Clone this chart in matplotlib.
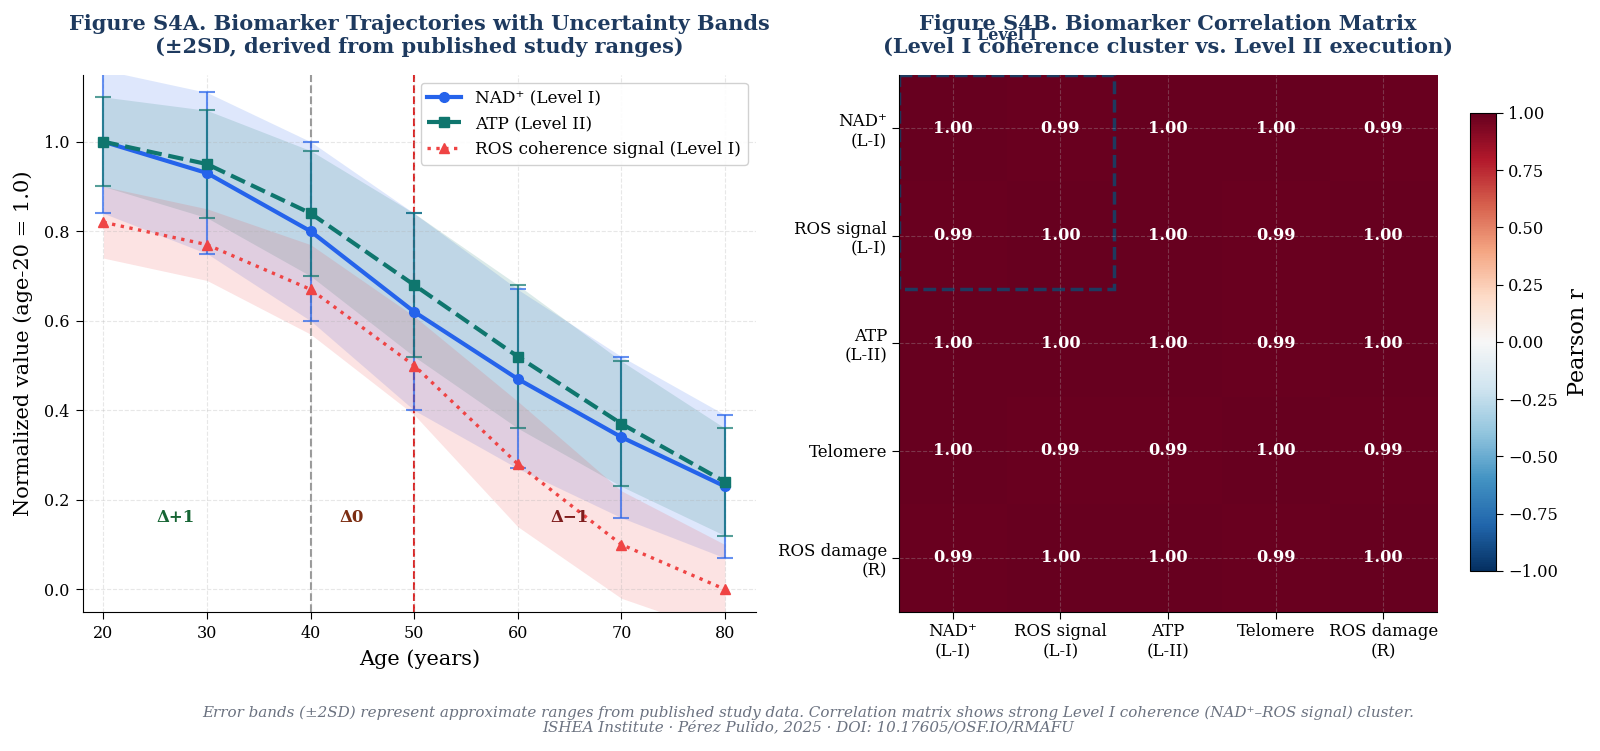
import matplotlib
matplotlib.use("Agg")
import matplotlib.pyplot as plt
import numpy as np
from matplotlib.patches import Rectangle

plt.rcParams['font.family'] = ['DejaVu Serif']

# ---------------- data ----------------
ages = [20, 30, 40, 50, 60, 70, 80]
nad = [1.00, 0.93, 0.80, 0.62, 0.47, 0.34, 0.23]
nad_sd2 = [0.16, 0.18, 0.20, 0.22, 0.20, 0.18, 0.16]
atp = [1.00, 0.95, 0.84, 0.68, 0.52, 0.37, 0.24]
atp_sd2 = [0.10, 0.12, 0.14, 0.16, 0.16, 0.14, 0.12]
ros = [0.82, 0.77, 0.67, 0.50, 0.28, 0.10, 0.00]
ros_sd2 = [0.08, 0.08, 0.10, 0.11, 0.14, 0.12, 0.10]

series_labels = ["NAD\u207a (Level I)", "ATP (Level II)", "ROS coherence signal (Level I)"]
phase_lines = [40, 50]
phase_labels = ["\u0394+1", "\u03940", "\u0394\u22121"]
phase_label_x = [27, 44, 65]
phase_label_y = 0.16

corr_labels = ["NAD\u207a\n(L-I)", "ROS signal\n(L-I)", "ATP\n(L-II)", "Telomere", "ROS damage\n(R)"]
corr = [
    [1.00, 0.99, 1.00, 1.00, 0.99],
    [0.99, 1.00, 1.00, 0.99, 1.00],
    [1.00, 1.00, 1.00, 0.99, 1.00],
    [1.00, 0.99, 0.99, 1.00, 0.99],
    [0.99, 1.00, 1.00, 0.99, 1.00],
]

# ---------------- style ----------------
navy = '#1e3a5f'
c_nad = '#2563eb'
c_atp = '#0f766e'
c_ros = '#ef4444'

fig = plt.figure(figsize=(16, 7.51), dpi=100)
ax1 = fig.add_axes([0.0517, 0.1855, 0.4208, 0.7152])
ax2 = fig.add_axes([0.5619, 0.1855, 0.3363, 0.7152])
cax = fig.add_axes([0.9188, 0.2397, 0.01625, 0.6099])

x = np.array(ages)
for vals, sd, c in [(nad, nad_sd2, c_nad), (atp, atp_sd2, c_atp), (ros, ros_sd2, c_ros)]:
    v = np.array(vals); s = np.array(sd)
    ax1.fill_between(x, v - s, v + s, color=c, alpha=0.15, linewidth=0)

ax1.axvline(phase_lines[0], color='#999999', ls='--', lw=1.5, zorder=1.5)
ax1.axvline(phase_lines[1], color='#dc2626', ls='--', lw=1.5, zorder=1.5)

ax1.errorbar(x, nad, yerr=nad_sd2, fmt='none', ecolor=c_nad, elinewidth=1.5,
             capsize=6, capthick=1.5, alpha=0.7, zorder=2.5)
ax1.errorbar(x, atp, yerr=atp_sd2, fmt='none', ecolor=c_atp, elinewidth=1.5,
             capsize=6, capthick=1.5, alpha=0.7, zorder=2.5)

ax1.plot(x, nad, color=c_nad, lw=3, marker='o', ms=7, label=series_labels[0], zorder=3)
ax1.plot(x, atp, color=c_atp, lw=3, ls='--', marker='s', ms=7, label=series_labels[1], zorder=3)
ax1.plot(x, ros, color=c_ros, lw=2.4, ls=':', marker='^', ms=7, label=series_labels[2], zorder=3)

for lab, lx, col in zip(phase_labels, phase_label_x, ['#166534', '#7c2d12', '#7f1d1d']):
    ax1.text(lx, phase_label_y, lab, color=col, fontsize=12, fontweight='bold',
             ha='center', va='center')

ax1.set_xlim(18, 83)
ax1.set_ylim(-0.05, 1.15)
ax1.set_xticks(ages)
ax1.tick_params(labelsize=11.5, length=5, pad=4.5)
ax1.grid(True, ls='--', alpha=0.3)
for s in ['top', 'right']:
    ax1.spines[s].set_visible(False)
ax1.set_xlabel('Age (years)', fontsize=15, labelpad=5)
ax1.set_ylabel('Normalized value (age-20 = 1.0)', fontsize=15, labelpad=8)
ax1.set_title('Figure S4A. Biomarker Trajectories with Uncertainty Bands\n'
              '(\u00b12SD, derived from published study ranges)',
              fontsize=15, fontweight='bold', color=navy, pad=15.5)
ax1.legend(loc='upper right', fontsize=12.2, framealpha=0.9)

# ---------------- heatmap ----------------
C = np.array(corr)
im = ax2.imshow(C, cmap='RdBu_r', vmin=-1, vmax=1, aspect='auto')
n = len(corr_labels)
ax2.set_xticks(range(n))
ax2.set_yticks(range(n))
ax2.set_xticklabels(corr_labels, fontsize=12)
ax2.set_yticklabels(corr_labels, fontsize=12)
ax2.tick_params(length=5)
ax2.grid(True, ls='--', alpha=0.3)
for s in ['top', 'right']:
    ax2.spines[s].set_visible(False)
for i in range(n):
    for j in range(n):
        ax2.text(j, i, f"{C[i, j]:.2f}", ha='center', va='center', color='white',
                 fontsize=11.7, fontweight='bold')
ax2.add_patch(Rectangle((-0.5, -0.5), 2, 2, fill=False, ls='--', lw=2.5, edgecolor=navy))
ax2.text(0.5, -0.86, 'Level I', ha='center', va='center', fontsize=11.5,
         fontweight='bold', color=navy, clip_on=False)
ax2.set_title('Figure S4B. Biomarker Correlation Matrix\n'
              '(Level I coherence cluster vs. Level II execution)',
              fontsize=15, fontweight='bold', color=navy, pad=15.5)

cb = fig.colorbar(im, cax=cax)
cb.set_label('Pearson r', fontsize=16, labelpad=7)
cb.ax.tick_params(labelsize=11.7, length=5)

fig.text(0.505, 0.041,
         'Error bands (\u00b12SD) represent approximate ranges from published study data. '
         'Correlation matrix shows strong Level I coherence (NAD\u207a\u2013ROS signal) cluster.\n'
         'ISHEA Institute \u00b7 P\u00e9rez Pulido, 2025 \u00b7 DOI: 10.17605/OSF.IO/RMAFU',
         ha='center', va='center', fontsize=10.9, style='italic', color='#6b7280',
         linespacing=1.05)

fig.savefig('out.png', dpi=100)
